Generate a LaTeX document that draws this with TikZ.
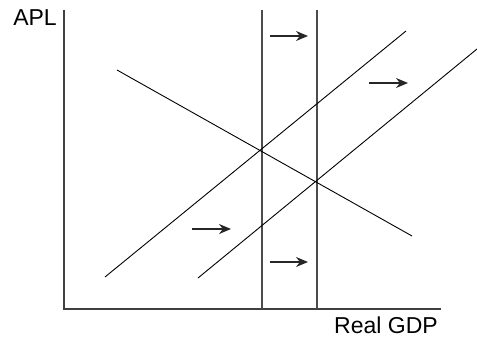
\documentclass[tikz,border=0pt]{standalone}
\usepackage{fontspec}
\setmainfont{Liberation Sans}
\usetikzlibrary{arrows.meta,positioning}

\begin{document}
\begin{tikzpicture}[x=1pt, y=-1pt,
    axis/.style={draw=black!75, line width=1.3pt},
    curve/.style={draw=black, line width=0.9pt},
    level/.style={draw=black!70, line width=1.2pt},
    movearrow/.style={-{Stealth[length=12pt,width=10pt]}, draw=black!85, fill=black!85, line width=1.2pt},
    lbl/.style={font=\fontsize{23}{27}\selectfont, inner sep=0pt}]

    \useasboundingbox (0,0) rectangle (477,342);

    % axes
    \coordinate (origin) at (64,309);
    \coordinate (ytop) at (64,10);
    \coordinate (xend) at (441,309);
    \draw[axis] (ytop) -- (origin) -- (xend);
    \node[lbl] (apl) at (35,18) {APL};
    \node[lbl] (gdp) at (386,325) {Real GDP};

    % vertical levels
    \coordinate (v1top) at (262,10);
    \coordinate (v1bot) at (262,309);
    \coordinate (v2top) at (317,10);
    \coordinate (v2bot) at (317,309);
    \draw[level] (v1top) -- (v1bot);
    \draw[level] (v2top) -- (v2bot);

    % downward sloping line
    \coordinate (ad1) at (117,70);
    \coordinate (ad2) at (412,236);
    \draw[curve] (ad1) -- (ad2);

    % upward sloping lines
    \coordinate (s1a) at (105,277);
    \coordinate (s1b) at (406,31);
    \coordinate (s2a) at (198,278);
    \coordinate (s2b) at (477,49);
    \draw[curve] (s1a) -- (s1b);
    \draw[curve] (s2a) -- (s2b);

    % shift arrows
    \coordinate (a1s) at (270,36);  \coordinate (a1e) at (308,36);
    \coordinate (a2s) at (369,83);  \coordinate (a2e) at (408,83);
    \coordinate (a3s) at (192,229); \coordinate (a3e) at (231,229);
    \coordinate (a4s) at (270,262); \coordinate (a4e) at (308,262);
    \draw[movearrow] (a1s) -- (a1e);
    \draw[movearrow] (a2s) -- (a2e);
    \draw[movearrow] (a3s) -- (a3e);
    \draw[movearrow] (a4s) -- (a4e);
\end{tikzpicture}
\end{document}
